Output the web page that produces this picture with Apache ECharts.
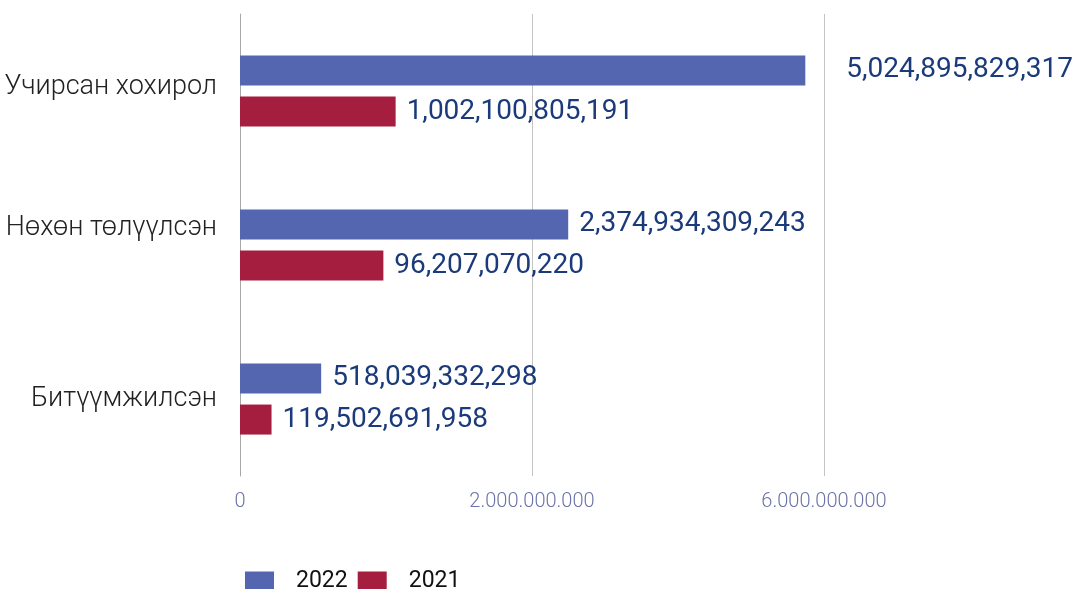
<!DOCTYPE html>
<html>
<head>
<meta charset="utf-8">
<script src="https://cdn.jsdelivr.net/npm/echarts@6/dist/echarts.min.js"></script>
<style>
html,body{margin:0;padding:0;background:#fff;}
#chart{width:1074px;height:589px;}
</style>
</head>
<body>
<div id="chart"></div>
<script>
const categories = ['Учирсан хохирол', 'Нөхөн төлүүлсэн', 'Битүүмжилсэн'];
const seriesNames = ['2022', '2021'];
const tickLabels = ['0', '2.000.000.000', '6.000.000.000'];
// bar lengths as drawn, in axis tick steps
const bars2022 = [1.936, 1.124, 0.278];
const bars2021 = [0.533, 0.491, 0.108];
// value labels as printed on the chart
const labels2022 = ['5,024,895,829,317', '2,374,934,309,243', '518,039,332,298'];
const labels2021 = ['1,002,100,805,191', '96,207,070,220', '119,502,691,958'];

const chart = echarts.init(document.getElementById('chart'), null, {renderer: 'canvas'});

const labelStyle = {
  show: true,
  position: 'right',
  distance: 11,
  fontFamily: 'Roboto',
  fontSize: 28,
  color: '#1b3a7a'
};

function makeData(vals, idxOverride) {
  return vals.map((v, i) => {
    if (idxOverride && idxOverride[i] !== undefined) {
      return {value: v, label: {distance: idxOverride[i]}};
    }
    return v;
  });
}

const catLabelBase = {fontFamily: 'Roboto', fontWeight: 300, fontSize: 27, color: '#222'};

const option = {
  animation: false,
  grid: {left: 240, right: 250, top: 14, bottom: 113},
  legend: {
    left: 245,
    top: 570,
    padding: 0,
    icon: 'rect',
    itemWidth: 29,
    itemHeight: 20,
    itemGap: 10,
    data: seriesNames,
    textStyle: {fontFamily: 'Roboto', fontSize: 23, color: '#111', padding: [0, 0, 0, 17]}
  },
  xAxis: {
    type: 'value',
    min: 0,
    max: 2,
    interval: 1,
    axisLine: {show: false},
    axisTick: {show: false},
    splitLine: {show: true, lineStyle: {color: '#c4c4c4', width: 1}},
    axisLabel: {
      margin: 16,
      fontFamily: 'Roboto',
      fontWeight: 300,
      fontSize: 20,
      color: '#6b73a8',
      formatter: v => tickLabels[Math.round(v)]
    }
  },
  yAxis: {
    type: 'category',
    inverse: true,
    data: categories,
    axisLine: {show: true, lineStyle: {color: '#a8a8a8'}},
    axisTick: {show: false},
    axisLabel: Object.assign({}, catLabelBase, {
      margin: 23,
      formatter: (v, i) => '{c' + i + '|' + v + '}',
      rich: {
        c0: Object.assign({}, catLabelBase, {padding: [0, 0, 8, 0]}),
        c1: Object.assign({}, catLabelBase, {padding: [0, 0, 34, 0]}),
        c2: Object.assign({}, catLabelBase, {padding: [0, 0, 0, 0]})
      }
    })
  },
  series: [
    {
      name: seriesNames[0],
      type: 'bar',
      barWidth: 30,
      barGap: '37%',
      itemStyle: {color: '#5566b0'},
      label: Object.assign({}, labelStyle, {formatter: p => labels2022[p.dataIndex]}),
      data: makeData(bars2022, {0: 41})
    },
    {
      name: seriesNames[1],
      type: 'bar',
      barWidth: 30,
      barGap: '37%',
      itemStyle: {color: '#a51e3f'},
      label: Object.assign({}, labelStyle, {formatter: p => labels2021[p.dataIndex]}),
      data: makeData(bars2021)
    }
  ]
};
chart.setOption(option);
</script>
</body>
</html>
